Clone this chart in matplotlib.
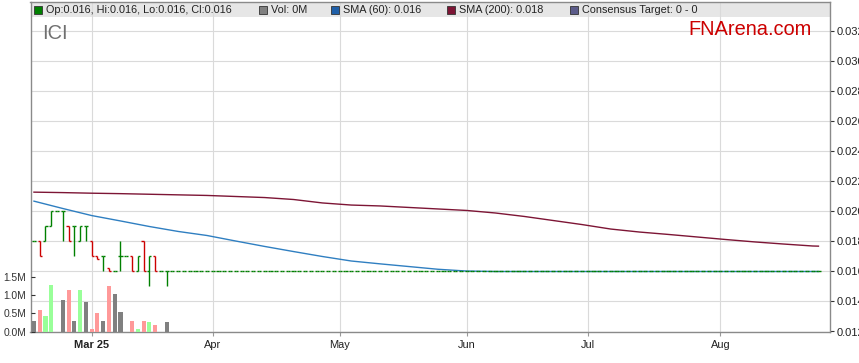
import matplotlib
matplotlib.use('Agg')
import matplotlib.pyplot as plt
from matplotlib.patches import Rectangle
import numpy as np
import pandas as pd

plt.rcParams['font.family'] = ['Liberation Sans', 'DejaVu Sans']

# 交易日（工作日）
dates = pd.bdate_range('2025-02-17', '2025-08-26')

# 有成交的日子 (2025-02-17 .. 2025-03-20)
traded_open = [0.018, 0.018, 0.018, 0.019, 0.020, 0.020, 0.019, 0.019, 0.018, 0.019,
               0.018, 0.017, 0.017, 0.0162, 0.016, 0.017, 0.017, 0.017, 0.016, 0.018,
               0.016, 0.017, 0.016, 0.016]
traded_high = [0.018, 0.018, 0.019, 0.020, 0.020, 0.020, 0.019, 0.019, 0.019, 0.019,
               0.018, 0.017, 0.017, 0.0162, 0.016, 0.018, 0.017, 0.017, 0.017, 0.018,
               0.017, 0.017, 0.016, 0.016]
traded_low = [0.018, 0.017, 0.018, 0.019, 0.020, 0.018, 0.018, 0.017, 0.018, 0.018,
              0.017, 0.0168, 0.016, 0.016, 0.016, 0.016, 0.017, 0.016, 0.016, 0.016,
              0.015, 0.016, 0.016, 0.015]
traded_close = [0.018, 0.017, 0.019, 0.020, 0.020, 0.020, 0.018, 0.019, 0.019, 0.019,
                0.017, 0.0168, 0.017, 0.016, 0.016, 0.017, 0.017, 0.016, 0.017, 0.016,
                0.017, 0.016, 0.016, 0.016]
traded_volume = [0.29, 0.58, 0.43, 1.29, 0, 0.88, 1.13, 0.30, 1.13, 0.81,
                 0.08, 0.52, 0.28, 1.24, 1.02, 0.55, 0, 0.28, 0.08, 0.30,
                 0.25, 0.17, 0, 0.25]  # 百万股

# 之后没有成交，价格停在 0.016
n_flat = len(dates) - len(traded_open)
opens = traded_open + [0.016] * n_flat
highs = traded_high + [0.016] * n_flat
lows = traded_low + [0.016] * n_flat
closes = traded_close + [0.016] * n_flat
volumes = traded_volume + [0] * n_flat

# 均线（每 5 个交易日取一个点）
sma_pos = list(range(0, 136, 5)) + [136]
sma60 = [0.02069, 0.0202, 0.01973, 0.01937, 0.0190, 0.01867, 0.0184, 0.01803, 0.01767,
         0.01733, 0.0170, 0.0167, 0.01651, 0.01633, 0.01615, 0.01603, 0.0160, 0.0160,
         0.0160, 0.0160, 0.0160, 0.0160, 0.0160, 0.0160, 0.0160, 0.0160, 0.0160,
         0.0160, 0.0160]
sma200 = [0.02129, 0.02126, 0.02122, 0.02119, 0.02115, 0.02111, 0.02107, 0.02100,
          0.02093, 0.02080, 0.02057, 0.02043, 0.02037, 0.02027, 0.02017, 0.02007,
          0.01990, 0.01967, 0.01940, 0.01913, 0.01883, 0.01863, 0.01847, 0.01830,
          0.01813, 0.01797, 0.01783, 0.01770, 0.01769]

month_labels = ['Mar 25', 'Apr', 'May', 'Jun', 'Jul', 'Aug']

W, H = 859, 363
fig = plt.figure(figsize=(W / 100, H / 100), dpi=100)
L, R, T, B = 30.5, 830, 2.5, 331.5
ax = fig.add_axes([L / W, 1 - B / H, (R - L) / W, (B - T) / H])

x = np.arange(len(dates))
o, h, l, c = map(np.array, (opens, highs, lows, closes))
up = c >= o
bar_col = np.where(up, '#008000', '#cc0000')

# 成交量（左轴）
ax2 = ax.twinx()
vol = np.array(volumes) * 1e6
vol_col = np.where(c > o, '#99ff99', np.where(c < o, '#ff9999', '#808080'))
ax2.bar(x, vol, width=0.7, color=vol_col, zorder=2)
ax2.set_ylim(0, 9.06e6)
ax2.yaxis.tick_left()
ax2.set_yticks([0, 0.5e6, 1.0e6, 1.5e6])
ax2.set_yticklabels(['0.0M', '0.5M', '1.0M', '1.5M'])
ax2.tick_params(axis='y', direction='in', length=3, width=0.8, color='#333333',
                labelsize=7.4, labelcolor='#333333', pad=3)
for s in ax2.spines.values():
    s.set_visible(False)

# OHLC 线
w = 0.36
ax.vlines(x, l, h, colors=bar_col, lw=1.0, zorder=4)
ax.hlines(o, x - w, x, colors=bar_col, lw=1.0, zorder=4)
ax.hlines(c, x, x + w, colors=bar_col, lw=1.0, zorder=4)

ax.plot(sma_pos, sma60, color='#2f7fc1', lw=1.0, zorder=3)
ax.plot(sma_pos, sma200, color='#7d1535', lw=1.0, zorder=3)

ax.set_xlim(-0.6, 138.0)
ax.set_ylim(0.012, 0.012 + (B - T) / 15000)
ax.yaxis.tick_right()
yt = np.arange(0.012, 0.0321, 0.002)
ax.set_yticks(yt)
ax.set_yticklabels([f'{v:.3f}' for v in yt])

month_pos = [i for i in range(1, len(dates)) if dates[i].month != dates[i - 1].month]
ax.set_xticks(month_pos)
ax.set_xticklabels(month_labels)
ax.get_xticklabels()[0].set_fontweight('bold')

ax.tick_params(axis='y', direction='out', length=3, width=0.8, color='#333333',
               labelsize=8, labelcolor='#222222', pad=2)
ax.tick_params(axis='x', direction='out', length=3, width=0.8, color='#999999',
               labelsize=7.9, labelcolor='#222222', pad=3)
ax.grid(True, color='#dadada', lw=0.8)
ax.set_axisbelow(True)
for s in ax.spines.values():
    s.set_color('#8a8a8a')
    s.set_linewidth(1.0)

# 顶部图例条
hdr = 14.5 / (B - T)
ax.add_patch(Rectangle((0, 1 - hdr), 1, hdr, transform=ax.transAxes,
                       facecolor='#e6e6e6', edgecolor='none', zorder=0.4))

legend = [
    ('#008000', f'Op:{opens[-1]:.3f}, Hi:{highs[-1]:.3f}, Lo:{lows[-1]:.3f}, Cl:{closes[-1]:.3f}', 34),
    ('#808080', f'Vol: {volumes[-1]:.0f}M', 259),
    ('#1f5fa8', f'SMA (60): {sma60[-1]:.3f}', 331),
    ('#7d1535', f'SMA (200): {sma200[-1]:.3f}', 447),
    ('#5c5c8a', 'Consensus Target: 0 - 0', 570),
]
for col, txt, px in legend:
    fig.patches.append(Rectangle((px / W, 1 - 14 / H), 8 / W, 8 / H, transform=fig.transFigure,
                                 facecolor=col, edgecolor='#333333', lw=0.6, figure=fig))
    fig.text((px + 12) / W, 1 - 10 / H, txt, fontsize=7.8, color='#222222', va='center')

fig.text(41.7 / W, 1 - 39.3 / H, 'ICI', fontsize=14.4, color='#707070', va='baseline')
fig.text(688 / W, 1 - 35 / H, 'FNArena.com', fontsize=14.4, color='#cc0000', va='baseline')

fig.savefig('out.png', dpi=100)
